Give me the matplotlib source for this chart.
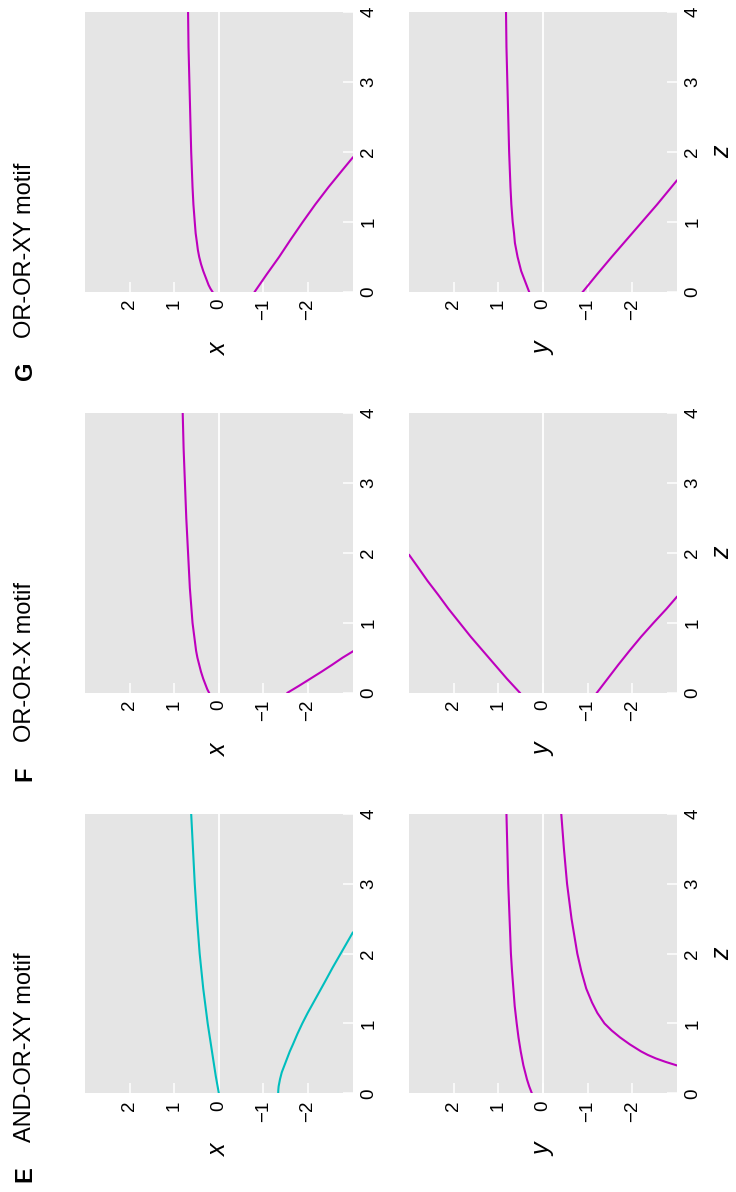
import matplotlib
matplotlib.use("Agg")
import matplotlib.pyplot as plt
from matplotlib.text import Annotation

plt.rcParams["font.family"] = ["Liberation Sans", "DejaVu Sans"]

W, H = 736, 1192

# ---- steady-state branches: z values and the matching x / y levels ----
# E: AND-OR-XY motif
E_x_hi_z = [0, 0.25, 0.5, 0.75, 1.0, 1.25, 1.5, 1.75, 2.0, 2.5, 3.0, 3.5, 4.0]
E_x_hi = [0.0, 0.07, 0.13, 0.19, 0.25, 0.30, 0.35, 0.39, 0.43, 0.49, 0.54, 0.58, 0.62]
E_x_lo_z = [0, 0.05, 0.1, 0.15, 0.2, 0.3, 0.4, 0.5, 0.6, 0.7, 0.85, 1.0, 1.15, 1.3,
            1.45, 1.6, 1.8, 2.0, 2.15, 2.3]
E_x_lo = [-1.33, -1.333, -1.34, -1.355, -1.37, -1.41, -1.47, -1.53, -1.59, -1.66, -1.76,
          -1.87, -1.99, -2.12, -2.25, -2.38, -2.55, -2.73, -2.865, -3.0]
E_y_hi_z = [0, 0.1, 0.2, 0.3, 0.4, 0.5, 0.6, 0.8, 1.0, 1.25, 1.5, 1.75, 2.0, 2.5, 3.0,
            3.5, 4.0]
E_y_hi = [0.25, 0.31, 0.36, 0.40, 0.44, 0.47, 0.50, 0.55, 0.59, 0.635, 0.665, 0.695,
          0.72, 0.75, 0.78, 0.80, 0.82]
E_y_lo_z = [0.40, 0.45, 0.5, 0.55, 0.6, 0.7, 0.8, 0.9, 1.0, 1.15, 1.3, 1.5, 1.75, 2.0,
            2.5, 3.0, 3.5, 4.0]
E_y_lo = [-3.0, -2.75, -2.53, -2.35, -2.2, -1.95, -1.73, -1.54, -1.38, -1.22, -1.10,
          -0.97, -0.86, -0.77, -0.64, -0.54, -0.47, -0.41]

# F: OR-OR-X motif
F_x_hi_z = [0, 0.05, 0.1, 0.2, 0.3, 0.4, 0.5, 0.6, 0.75, 0.9, 1.0, 1.25, 1.5, 2.0, 2.5,
            3.0, 3.5, 4.0]
F_x_hi = [0.22, 0.26, 0.29, 0.35, 0.40, 0.44, 0.48, 0.51, 0.54, 0.57, 0.59, 0.62, 0.65,
          0.69, 0.73, 0.76, 0.79, 0.81]
F_x_lo_z = [0, 0.1, 0.2, 0.3, 0.4, 0.5, 0.59]
F_x_lo = [-1.54, -1.80, -2.05, -2.30, -2.54, -2.77, -3.0]
F_y_hi_z = [0, 0.2, 0.4, 0.6, 0.8, 1.0, 1.2, 1.4, 1.6, 1.8, 1.97]
F_y_hi = [0.52, 0.81, 1.08, 1.35, 1.62, 1.87, 2.12, 2.35, 2.59, 2.81, 3.0]
F_y_lo_z = [0, 0.2, 0.4, 0.6, 0.8, 1.0, 1.2, 1.37]
F_y_lo = [-1.21, -1.45, -1.69, -1.94, -2.20, -2.48, -2.77, -3.0]

# G: OR-OR-XY motif
G_x_hi_z = [0, 0.05, 0.1, 0.2, 0.3, 0.4, 0.5, 0.6, 0.7, 0.84, 1.0, 1.25, 1.5, 2.0, 2.5,
            3.0, 3.5, 4.0]
G_x_hi = [0.14, 0.19, 0.23, 0.29, 0.35, 0.40, 0.44, 0.47, 0.49, 0.52, 0.54, 0.57, 0.59,
          0.62, 0.64, 0.66, 0.68, 0.69]
G_x_lo_z = [0, 0.25, 0.5, 0.75, 1.0, 1.25, 1.5, 1.75, 1.92]
G_x_lo = [-0.80, -1.07, -1.35, -1.61, -1.88, -2.16, -2.46, -2.78, -3.0]
G_y_hi_z = [0, 0.1, 0.2, 0.3, 0.4, 0.5, 0.6, 0.7, 0.84, 1.0, 1.25, 1.5, 2.0, 2.5, 3.0,
            3.5, 4.0]
G_y_hi = [0.31, 0.37, 0.43, 0.49, 0.53, 0.57, 0.60, 0.63, 0.65, 0.68, 0.71, 0.73, 0.76,
          0.78, 0.80, 0.82, 0.83]
G_y_lo_z = [0, 0.25, 0.5, 0.75, 1.0, 1.25, 1.59]
G_y_lo = [-0.89, -1.21, -1.54, -1.88, -2.22, -2.56, -3.0]

panel_letters = ["E", "F", "G"]
panel_titles = ["AND-OR-XY motif", "OR-OR-X motif", "OR-OR-XY motif"]
x_ticks = [-2, -1, 0, 1, 2]
z_ticks = [0, 1, 2, 3, 4]

CYAN = "#00BEBE"
MAGENTA = "#BE00BE"
PANEL_BG = "#E5E5E5"

curves = {
    ("E", "x"): ([(E_x_hi_z, E_x_hi), (E_x_lo_z, E_x_lo)], CYAN),
    ("E", "y"): ([(E_y_hi_z, E_y_hi), (E_y_lo_z, E_y_lo)], MAGENTA),
    ("F", "x"): ([(F_x_hi_z, F_x_hi), (F_x_lo_z, F_x_lo)], MAGENTA),
    ("F", "y"): ([(F_y_hi_z, F_y_hi), (F_y_lo_z, F_y_lo)], MAGENTA),
    ("G", "x"): ([(G_x_hi_z, G_x_hi), (G_x_lo_z, G_x_lo)], MAGENTA),
    ("G", "y"): ([(G_y_hi_z, G_y_hi), (G_y_lo_z, G_y_lo)], MAGENTA),
}

# panel boxes in pixels: columns (left, right), rows (top, bottom)
col_px = {"x": (85.0, 352.7), "y": (409.3, 676.7)}
row_px = {"E": (814.0, 1093.3), "F": (413.3, 692.7), "G": (12.0, 292.0)}

fig = plt.figure(figsize=(W / 100, H / 100), dpi=100)


def fx(px):
    return px / W


def fy(py):
    return 1 - py / H


for letter, title in zip(panel_letters, panel_titles):
    top, bottom = row_px[letter]
    for var in ["x", "y"]:
        left, right = col_px[var]
        ax = fig.add_axes([fx(left), fy(bottom), (right - left) / W, (bottom - top) / H])
        ax.set_facecolor(PANEL_BG)
        for s in ax.spines.values():
            s.set_visible(False)
        ax.axvline(0, color="white", lw=1.3, zorder=1)
        branches, color = curves[(letter, var)]
        for zs, vs in branches:
            ax.plot(vs, zs, color=color, lw=1.5, zorder=3, solid_joinstyle="round")
        ax.set_xlim(3, -3)
        ax.set_ylim(0, 4)
        ax.set_xticks(x_ticks)
        ax.set_yticks(z_ticks)
        ax.yaxis.tick_right()
        ax.tick_params(axis="both", direction="in", length=7.2, width=1.1,
                       color="white", labelcolor="black", labelsize=13.5)
        ax.tick_params(axis="x", pad=5, labelrotation=90)
        ax.tick_params(axis="y", pad=5.5, labelrotation=90)
        for lab in ax.get_yticklabels():
            lab.set_verticalalignment("center")
        ax.set_xlabel(var, rotation=90, fontsize=18, style="italic", labelpad=16)
        if var == "y":
            ax.yaxis.set_label_position("right")
            ax.set_ylabel("z", rotation=90, fontsize=18, style="italic", labelpad=6)

    # panel heading: bold letter followed by the motif name
    start = bottom + 88.5
    lt = fig.text(fx(31.7), fy(start), letter, rotation=90, rotation_mode="anchor",
                  ha="left", va="baseline", fontsize=17, fontweight="bold")
    fig.add_artist(Annotation(
        title, xy=(0.5, 1), xycoords=lt, xytext=(0, 17.6), textcoords="offset points",
        rotation=90, ha="center", va="bottom", fontsize=17))

fig.savefig("out.png", dpi=100)
